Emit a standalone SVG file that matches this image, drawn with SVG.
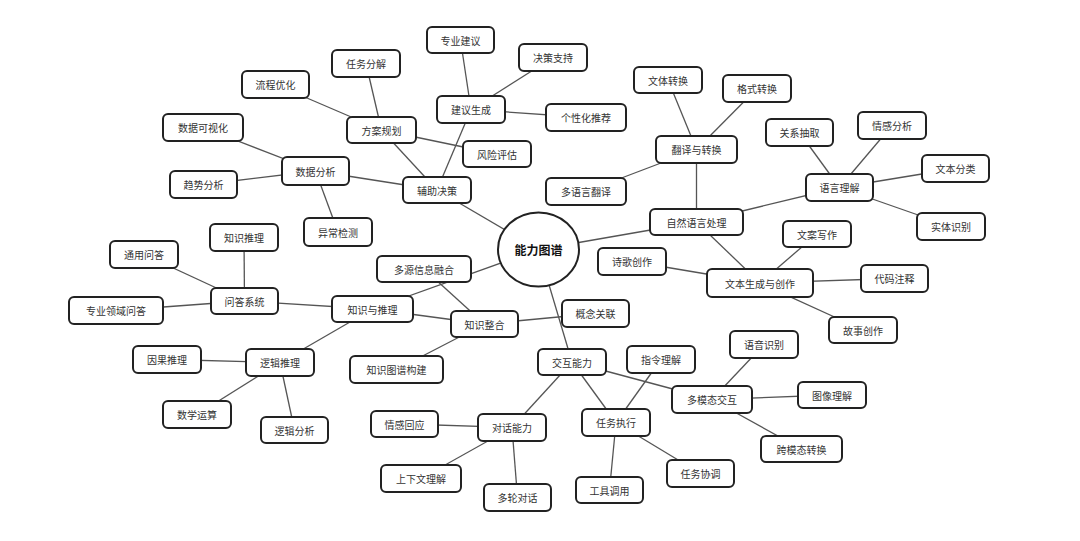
<svg xmlns="http://www.w3.org/2000/svg" width="1080" height="541" viewBox="0 0 1080 541">
<style>
.bg{fill:#ffffff}
.n rect{fill:#ffffff;stroke:#222222;stroke-width:2;rx:5;ry:5}
.n text{font-family:"Noto Sans CJK SC","Noto Sans",sans-serif;font-size:10px;fill:#333333;text-anchor:middle;dominant-baseline:central}
#edges line{stroke:#555555;stroke-width:1.3}
.root ellipse{fill:#ffffff;stroke:#222222;stroke-width:2}
.root text{font-family:"Noto Sans CJK SC","Noto Sans",sans-serif;font-size:12px;font-weight:bold;fill:#111111;text-anchor:middle;dominant-baseline:central}
</style>
<rect class="bg" x="0" y="0" width="1080" height="541"/>
<g id="edges">
<!-- root -->
<line x1="538.5" y1="249.5" x2="437" y2="190"/>
<line x1="538.5" y1="249.5" x2="696.5" y2="222"/>
<line x1="538.5" y1="249.5" x2="372.5" y2="309"/>
<line x1="538.5" y1="249.5" x2="572" y2="362"/>
<!-- 辅助决策 -->
<line x1="437" y1="190" x2="381.5" y2="130"/>
<line x1="437" y1="190" x2="471" y2="109.5"/>
<line x1="437" y1="190" x2="315.5" y2="171"/>
<!-- 方案规划 -->
<line x1="381.5" y1="130" x2="366" y2="63.5"/>
<line x1="381.5" y1="130" x2="275.5" y2="84.5"/>
<line x1="381.5" y1="130" x2="497" y2="154"/>
<!-- 建议生成 -->
<line x1="471" y1="109.5" x2="460.5" y2="40"/>
<line x1="471" y1="109.5" x2="553" y2="57.5"/>
<line x1="471" y1="109.5" x2="586" y2="117.5"/>
<!-- 数据分析 -->
<line x1="315.5" y1="171" x2="203" y2="127.5"/>
<line x1="315.5" y1="171" x2="203.5" y2="184.5"/>
<line x1="315.5" y1="171" x2="338" y2="232"/>
<!-- 自然语言处理 -->
<line x1="696.5" y1="222" x2="696.5" y2="149.5"/>
<line x1="696.5" y1="222" x2="839.5" y2="187.5"/>
<line x1="696.5" y1="222" x2="760" y2="283"/>
<!-- 翻译与转换 -->
<line x1="696.5" y1="149.5" x2="668" y2="80"/>
<line x1="696.5" y1="149.5" x2="757" y2="88.5"/>
<line x1="696.5" y1="149.5" x2="586" y2="191.5"/>
<!-- 语言理解 -->
<line x1="839.5" y1="187.5" x2="799.5" y2="132.5"/>
<line x1="839.5" y1="187.5" x2="892" y2="125.5"/>
<line x1="839.5" y1="187.5" x2="955.5" y2="168.5"/>
<line x1="839.5" y1="187.5" x2="951" y2="226.5"/>
<!-- 文本生成与创作 -->
<line x1="760" y1="283" x2="817" y2="234"/>
<line x1="760" y1="283" x2="632" y2="261.5"/>
<line x1="760" y1="283" x2="894.5" y2="278.5"/>
<line x1="760" y1="283" x2="863" y2="330"/>
<!-- 知识与推理 -->
<line x1="372.5" y1="309" x2="244.5" y2="301"/>
<line x1="372.5" y1="309" x2="280" y2="362.5"/>
<line x1="372.5" y1="309" x2="484.5" y2="324"/>
<!-- 知识整合 -->
<line x1="484.5" y1="324" x2="424" y2="269"/>
<line x1="484.5" y1="324" x2="595.5" y2="313.5"/>
<line x1="484.5" y1="324" x2="396.5" y2="369.5"/>
<!-- 问答系统 -->
<line x1="244.5" y1="301" x2="244" y2="237.5"/>
<line x1="244.5" y1="301" x2="144" y2="254.5"/>
<line x1="244.5" y1="301" x2="116" y2="310.5"/>
<!-- 逻辑推理 -->
<line x1="280" y1="362.5" x2="167" y2="359.5"/>
<line x1="280" y1="362.5" x2="197" y2="414.5"/>
<line x1="280" y1="362.5" x2="294.5" y2="430"/>
<!-- 交互能力 -->
<line x1="572" y1="362" x2="512" y2="427.5"/>
<line x1="572" y1="362" x2="616" y2="422.5"/>
<line x1="572" y1="362" x2="712" y2="399.5"/>
<!-- 对话能力 -->
<line x1="512" y1="427.5" x2="404.5" y2="424"/>
<line x1="512" y1="427.5" x2="421" y2="478.5"/>
<line x1="512" y1="427.5" x2="517.5" y2="497.5"/>
<!-- 任务执行 -->
<line x1="616" y1="422.5" x2="661" y2="359.5"/>
<line x1="616" y1="422.5" x2="609.5" y2="490"/>
<line x1="616" y1="422.5" x2="700.5" y2="473.5"/>
<!-- 多模态交互 -->
<line x1="712" y1="399.5" x2="764" y2="344.5"/>
<line x1="712" y1="399.5" x2="832" y2="395"/>
<line x1="712" y1="399.5" x2="801.5" y2="449"/>
</g>
<g id="root" class="root"><ellipse cx="538.5" cy="249.5" rx="40.5" ry="37"/><text x="538.5" y="249.5">能力图谱</text></g>
<g id="n_rwfj" class="n"><rect x="332" y="50" width="68" height="27"/><text x="366" y="63.5">任务分解</text></g>
<g id="n_lcyh" class="n"><rect x="242" y="71" width="67" height="27"/><text x="275.5" y="84.5">流程优化</text></g>
<g id="n_sjksh" class="n"><rect x="163" y="114" width="80" height="27"/><text x="203" y="127.5">数据可视化</text></g>
<g id="n_fagh" class="n"><rect x="347" y="117" width="69" height="26"/><text x="381.5" y="130">方案规划</text></g>
<g id="n_sjfx" class="n"><rect x="282" y="157" width="67" height="28"/><text x="315.5" y="171">数据分析</text></g>
<g id="n_qsfx" class="n"><rect x="170" y="171" width="67" height="27"/><text x="203.5" y="184.5">趋势分析</text></g>
<g id="n_ycjc" class="n"><rect x="304" y="218" width="68" height="28"/><text x="338" y="232">异常检测</text></g>
<g id="n_zstl" class="n"><rect x="210" y="224" width="68" height="27"/><text x="244" y="237.5">知识推理</text></g>
<g id="n_zyjy" class="n"><rect x="427" y="27" width="67" height="26"/><text x="460.5" y="40">专业建议</text></g>
<g id="n_jczc" class="n"><rect x="519" y="44" width="68" height="27"/><text x="553" y="57.5">决策支持</text></g>
<g id="n_jysc" class="n"><rect x="437" y="96" width="68" height="27"/><text x="471" y="109.5">建议生成</text></g>
<g id="n_gxhtj" class="n"><rect x="546" y="104" width="80" height="27"/><text x="586" y="117.5">个性化推荐</text></g>
<g id="n_fxpg" class="n"><rect x="463" y="141" width="68" height="26"/><text x="497" y="154">风险评估</text></g>
<g id="n_fzjc" class="n"><rect x="403" y="177" width="68" height="26"/><text x="437" y="190">辅助决策</text></g>
<g id="n_dyyfy" class="n"><rect x="546" y="178" width="80" height="27"/><text x="586" y="191.5">多语言翻译</text></g>
<g id="n_wtzh" class="n"><rect x="634" y="67" width="68" height="26"/><text x="668" y="80">文体转换</text></g>
<g id="n_gszh" class="n"><rect x="723" y="75" width="68" height="27"/><text x="757" y="88.5">格式转换</text></g>
<g id="n_fyyzh" class="n"><rect x="656" y="136" width="81" height="27"/><text x="696.5" y="149.5">翻译与转换</text></g>
<g id="n_gxcq" class="n"><rect x="766" y="119" width="67" height="27"/><text x="799.5" y="132.5">关系抽取</text></g>
<g id="n_qgfx" class="n"><rect x="858" y="112" width="68" height="27"/><text x="892" y="125.5">情感分析</text></g>
<g id="n_wbfl" class="n"><rect x="922" y="155" width="67" height="27"/><text x="955.5" y="168.5">文本分类</text></g>
<g id="n_yylj" class="n"><rect x="806" y="174" width="67" height="27"/><text x="839.5" y="187.5">语言理解</text></g>
<g id="n_zryycl" class="n"><rect x="650" y="209" width="93" height="26"/><text x="696.5" y="222">自然语言处理</text></g>
<g id="n_stsb" class="n"><rect x="917" y="213" width="68" height="27"/><text x="951" y="226.5">实体识别</text></g>
<g id="n_waxz" class="n"><rect x="783" y="221" width="68" height="26"/><text x="817" y="234">文案写作</text></g>
<g id="n_sgcz" class="n"><rect x="598" y="248" width="68" height="27"/><text x="632" y="261.5">诗歌创作</text></g>
<g id="n_wbsc" class="n"><rect x="707" y="269" width="106" height="28"/><text x="760" y="283">文本生成与创作</text></g>
<g id="n_dmzs" class="n"><rect x="861" y="265" width="67" height="27"/><text x="894.5" y="278.5">代码注释</text></g>
<g id="n_gscz" class="n"><rect x="829" y="317" width="68" height="26"/><text x="863" y="330">故事创作</text></g>
<g id="n_gngl" class="n"><rect x="562" y="300" width="67" height="27"/><text x="595.5" y="313.5">概念关联</text></g>
<g id="n_yysb" class="n"><rect x="730" y="331" width="68" height="27"/><text x="764" y="344.5">语音识别</text></g>
<g id="n_zllj" class="n"><rect x="627" y="346" width="68" height="27"/><text x="661" y="359.5">指令理解</text></g>
<g id="n_dmtjh" class="n"><rect x="672" y="386" width="80" height="27"/><text x="712" y="399.5">多模态交互</text></g>
<g id="n_txlj" class="n"><rect x="798" y="382" width="68" height="26"/><text x="832" y="395">图像理解</text></g>
<g id="n_kmtzh" class="n"><rect x="761" y="436" width="81" height="26"/><text x="801.5" y="449">跨模态转换</text></g>
<g id="n_rwzx" class="n"><rect x="582" y="409" width="68" height="27"/><text x="616" y="422.5">任务执行</text></g>
<g id="n_rwxt" class="n"><rect x="667" y="460" width="67" height="27"/><text x="700.5" y="473.5">任务协调</text></g>
<g id="n_gjdy" class="n"><rect x="576" y="477" width="67" height="26"/><text x="609.5" y="490">工具调用</text></g>
<g id="n_jhnl" class="n"><rect x="538" y="349" width="68" height="26"/><text x="572" y="362">交互能力</text></g>
<g id="n_dhnl" class="n"><rect x="478" y="414" width="68" height="27"/><text x="512" y="427.5">对话能力</text></g>
<g id="n_qghy" class="n"><rect x="371" y="411" width="67" height="26"/><text x="404.5" y="424">情感回应</text></g>
<g id="n_sxwlj" class="n"><rect x="381" y="465" width="80" height="27"/><text x="421" y="478.5">上下文理解</text></g>
<g id="n_dldh" class="n"><rect x="484" y="484" width="67" height="27"/><text x="517.5" y="497.5">多轮对话</text></g>
<g id="n_dyxxrh" class="n"><rect x="377" y="256" width="94" height="26"/><text x="424" y="269">多源信息融合</text></g>
<g id="n_zsytl" class="n"><rect x="332" y="296" width="81" height="26"/><text x="372.5" y="309">知识与推理</text></g>
<g id="n_zszh" class="n"><rect x="451" y="311" width="67" height="26"/><text x="484.5" y="324">知识整合</text></g>
<g id="n_zstpgj" class="n"><rect x="350" y="356" width="93" height="27"/><text x="396.5" y="369.5">知识图谱构建</text></g>
<g id="n_tywd" class="n"><rect x="110" y="241" width="68" height="27"/><text x="144" y="254.5">通用问答</text></g>
<g id="n_wdxt" class="n"><rect x="211" y="288" width="67" height="26"/><text x="244.5" y="301">问答系统</text></g>
<g id="n_zylywd" class="n"><rect x="69" y="297" width="94" height="27"/><text x="116" y="310.5">专业领域问答</text></g>
<g id="n_ygtl" class="n"><rect x="133" y="346" width="68" height="27"/><text x="167" y="359.5">因果推理</text></g>
<g id="n_ljtl" class="n"><rect x="246" y="349" width="68" height="27"/><text x="280" y="362.5">逻辑推理</text></g>
<g id="n_sxys" class="n"><rect x="163" y="401" width="68" height="27"/><text x="197" y="414.5">数学运算</text></g>
<g id="n_ljfx" class="n"><rect x="261" y="417" width="67" height="26"/><text x="294.5" y="430">逻辑分析</text></g>
</svg>
